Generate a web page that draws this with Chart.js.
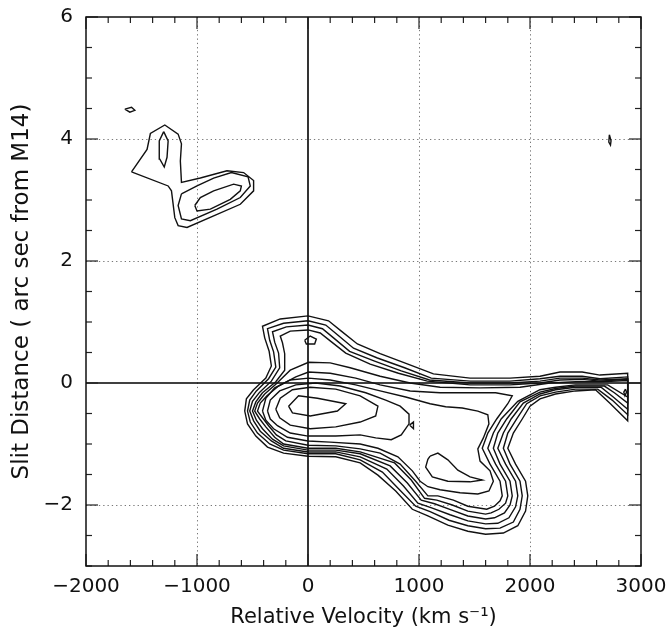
<!DOCTYPE html>
<html>
<head>
<meta charset="utf-8">
<script src="https://cdn.jsdelivr.net/npm/chart.js@4/dist/chart.umd.min.js"></script>
<style>
  html, body { margin: 0; padding: 0; background: #fff; }
  #c { display: block; }
</style>
</head>
<body>
<canvas id="c" width="671" height="632"></canvas>
<script>
// ---- axis ranges and tick labels ----
const xRange = [-2000, 3000];
const yRange = [-3, 6];
const xTickValues = [-2000, -1000, 0, 1000, 2000, 3000];
const yTickValues = [-2, 0, 2, 4, 6];
const xGridValues = [-1000, 1000, 2000];
const yGridValues = [-2, 2, 4];
const xMinorStep = 200;
const yMinorStep = 0.5;
const xTitle = 'Relative Velocity (km s\u207B\u00B9)';
const yTitle = 'Slit Distance ( arc sec from M14)';

// ---- contour levels: [velocity km/s, slit distance arcsec] ----
// main emission complex, outer to inner
const mainLevel1 = [[-490,-0.11],[-380,0.08],[-330,0.28],[-350,0.52],[-390,0.74],[-410,0.93],[-250,1.05],[0,1.10],[185,1.02],[300,0.85],[445,0.64],[650,0.48],[900,0.31],[1130,0.15],[1460,0.08],[1820,0.08],[2090,0.11],[2270,0.18],[2470,0.18],[2630,0.13],[2880,0.16],[2880,-0.62],[2720,-0.33],[2590,-0.11],[2410,-0.13],[2230,-0.18],[2090,-0.26],[2000,-0.38],[1930,-0.59],[1850,-0.82],[1800,-1.07],[1870,-1.33],[1960,-1.61],[1980,-1.85],[1960,-2.10],[1890,-2.34],[1760,-2.46],[1600,-2.48],[1440,-2.43],[1260,-2.33],[1080,-2.18],[940,-2.07],[790,-1.77],[630,-1.51],[470,-1.31],[250,-1.21],[0,-1.20],[-220,-1.15],[-365,-1.05],[-470,-0.87],[-545,-0.67],[-570,-0.46],[-555,-0.26]];
const mainLevel2 = [[-465,-0.13],[-355,0.07],[-290,0.26],[-310,0.51],[-345,0.70],[-365,0.89],[-220,0.98],[0,1.02],[160,0.95],[265,0.79],[410,0.57],[625,0.41],[870,0.25],[1110,0.08],[1460,0.03],[1820,0.03],[2090,0.07],[2270,0.11],[2470,0.11],[2630,0.07],[2880,0.10],[2880,-0.52],[2740,-0.28],[2610,-0.10],[2410,-0.10],[2230,-0.15],[2090,-0.21],[1970,-0.34],[1880,-0.59],[1800,-0.82],[1760,-1.07],[1820,-1.33],[1910,-1.61],[1930,-1.85],[1910,-2.07],[1850,-2.28],[1730,-2.38],[1600,-2.39],[1440,-2.34],[1270,-2.25],[1100,-2.11],[970,-2.02],[820,-1.74],[670,-1.46],[470,-1.26],[250,-1.16],[0,-1.16],[-220,-1.10],[-345,-1.00],[-455,-0.82],[-520,-0.64],[-545,-0.46],[-525,-0.28]];
const mainLevel3 = [[-435,-0.15],[-330,0.03],[-255,0.25],[-265,0.49],[-300,0.67],[-320,0.84],[-195,0.92],[0,0.95],[130,0.89],[230,0.74],[375,0.52],[600,0.36],[840,0.20],[1095,0.05],[1460,0.00],[1820,0.00],[2090,0.03],[2270,0.08],[2470,0.08],[2630,0.05],[2880,0.07],[2880,-0.43],[2750,-0.23],[2640,-0.07],[2410,-0.07],[2230,-0.11],[2090,-0.18],[1940,-0.33],[1830,-0.59],[1760,-0.82],[1710,-1.07],[1780,-1.33],[1870,-1.61],[1890,-1.85],[1870,-2.03],[1810,-2.21],[1710,-2.30],[1600,-2.31],[1440,-2.26],[1280,-2.16],[1120,-2.05],[990,-1.97],[860,-1.69],[710,-1.41],[470,-1.21],[250,-1.13],[0,-1.13],[-220,-1.07],[-330,-0.95],[-430,-0.79],[-490,-0.62],[-525,-0.46],[-500,-0.30]];
const mainLevel4 = [[-410,-0.16],[-290,0.02],[-210,0.21],[-210,0.48],[-230,0.66],[-250,0.77],[-160,0.85],[0,0.87],[110,0.82],[200,0.69],[340,0.49],[560,0.31],[815,0.16],[1075,0.03],[1460,-0.03],[1820,-0.03],[2090,0.00],[2270,0.05],[2470,0.06],[2630,0.03],[2880,0.06],[2880,-0.33],[2760,-0.16],[2670,-0.05],[2410,-0.05],[2230,-0.09],[2090,-0.15],[1910,-0.31],[1790,-0.59],[1710,-0.82],[1670,-1.07],[1730,-1.33],[1820,-1.61],[1840,-1.85],[1820,-2.00],[1770,-2.13],[1680,-2.21],[1600,-2.23],[1440,-2.18],[1290,-2.08],[1140,-1.98],[1020,-1.92],[895,-1.64],[740,-1.36],[470,-1.16],[250,-1.10],[0,-1.10],[-220,-1.03],[-320,-0.92],[-410,-0.75],[-465,-0.61],[-500,-0.46],[-470,-0.31]];
const mainLevel5 = [[-390,-0.18],[-290,-0.02],[-160,0.21],[5,0.34],[200,0.33],[380,0.25],[650,0.11],[920,0.00],[1190,-0.07],[1550,-0.08],[1910,-0.07],[2180,0.00],[2410,0.02],[2630,0.02],[2880,0.04],[2880,-0.23],[2700,-0.03],[2410,-0.03],[2230,-0.07],[2090,-0.11],[1890,-0.30],[1740,-0.59],[1670,-0.82],[1620,-1.07],[1690,-1.33],[1780,-1.61],[1800,-1.85],[1780,-1.97],[1720,-2.07],[1650,-2.13],[1600,-2.15],[1440,-2.10],[1300,-2.00],[1160,-1.92],[1050,-1.89],[930,-1.59],[780,-1.31],[470,-1.13],[250,-1.07],[0,-1.07],[-220,-1.00],[-300,-0.89],[-380,-0.72],[-435,-0.59],[-480,-0.46],[-455,-0.33]];
const mainLevel6 = [[-365,-0.20],[-265,-0.05],[-110,0.10],[5,0.18],[200,0.16],[430,0.08],[650,-0.03],[920,-0.13],[1190,-0.16],[1460,-0.16],[1690,-0.16],[1840,-0.21],[1800,-0.34],[1700,-0.59],[1620,-0.82],[1570,-1.07],[1640,-1.33],[1730,-1.61],[1750,-1.85],[1730,-1.93],[1680,-2.02],[1610,-2.07],[1440,-2.02],[1310,-1.92],[1170,-1.85],[1080,-1.85],[970,-1.61],[830,-1.33],[650,-1.15],[470,-1.08],[250,-1.03],[0,-1.02],[-200,-0.95],[-285,-0.85],[-355,-0.70],[-410,-0.57],[-455,-0.46],[-430,-0.33]];
const mainLevel7 = [[-410,-0.46],[-380,-0.25],[-300,-0.08],[-160,0.05],[5,0.08],[200,0.05],[430,-0.03],[650,-0.13],[880,-0.23],[1100,-0.34],[1240,-0.39],[1390,-0.41],[1530,-0.46],[1620,-0.52],[1630,-0.67],[1580,-0.90],[1530,-1.08],[1550,-1.28],[1640,-1.44],[1670,-1.61],[1630,-1.77],[1530,-1.82],[1370,-1.80],[1190,-1.75],[1080,-1.70],[1010,-1.61],[940,-1.44],[810,-1.21],[630,-1.07],[470,-1.00],[200,-0.97],[0,-0.95],[-185,-0.89],[-310,-0.75],[-380,-0.61]];
const coreLevel8 = [[-365,-0.46],[-340,-0.28],[-255,-0.13],[-110,-0.03],[70,0.00],[290,-0.05],[520,-0.16],[700,-0.28],[830,-0.38],[910,-0.51],[910,-0.67],[840,-0.85],[750,-0.93],[610,-0.90],[470,-0.85],[250,-0.87],[0,-0.87],[-160,-0.82],[-275,-0.70],[-340,-0.59]];
const lobeLevel8 = [[1100,-1.20],[1170,-1.15],[1260,-1.26],[1350,-1.43],[1460,-1.54],[1570,-1.59],[1460,-1.62],[1260,-1.61],[1120,-1.54],[1060,-1.38],[1080,-1.25]];
const coreLevel9 = [[-290,-0.43],[-250,-0.25],[-140,-0.11],[20,-0.07],[250,-0.10],[470,-0.21],[630,-0.38],[610,-0.54],[470,-0.64],[250,-0.72],[20,-0.75],[-160,-0.69],[-255,-0.57]];
const coreLevel10 = [[-175,-0.38],[-85,-0.21],[85,-0.25],[340,-0.34],[265,-0.46],[20,-0.54],[-140,-0.49]];
// small islands of the main complex
const islandTopLobe = [[-30,0.70],[20,0.77],[75,0.72],[60,0.64],[-15,0.64]];
const islandMid = [[915,-0.69],[950,-0.64],[950,-0.75]];
const islandRightEdge = [[2860,-0.10],[2845,-0.15],[2855,-0.21],[2870,-0.15]];
// north-east knot (upper left of the panel)
const knotOuter = [[-1590,3.46],[-1450,3.83],[-1420,4.09],[-1290,4.23],[-1170,4.08],[-1140,3.92],[-1150,3.64],[-1140,3.29],[-970,3.36],[-730,3.48],[-580,3.45],[-490,3.32],[-490,3.15],[-610,2.93],[-850,2.74],[-1090,2.55],[-1170,2.58],[-1200,2.71],[-1230,3.15],[-1260,3.23]];
const knotPeakA = [[-1300,4.12],[-1260,3.97],[-1270,3.70],[-1295,3.54],[-1335,3.67],[-1340,3.97]];
const knotMiddle = [[-1140,3.10],[-1000,3.23],[-850,3.36],[-690,3.45],[-540,3.38],[-520,3.23],[-610,3.04],[-820,2.85],[-1060,2.66],[-1140,2.69],[-1170,2.91]];
const knotInner = [[-1020,2.91],[-970,3.04],[-850,3.15],[-670,3.26],[-600,3.23],[-610,3.15],[-700,3.01],[-880,2.85],[-1000,2.82]];
const specUpperLeft = [[-1650,4.49],[-1590,4.52],[-1560,4.47],[-1605,4.44]];
const specUpperRight = [[2715,4.07],[2730,3.97],[2725,3.90],[2710,3.95]];

const allContours = [
  mainLevel1, mainLevel2, mainLevel3, mainLevel4, mainLevel5, mainLevel6, mainLevel7,
  coreLevel8, lobeLevel8, coreLevel9, coreLevel10,
  islandTopLobe, islandMid, islandRightEdge,
  knotOuter, knotPeakA, knotMiddle, knotInner, specUpperLeft, specUpperRight
];

function closed(pts) {
  const out = pts.map(p => ({x: p[0], y: p[1]}));
  out.push({x: pts[0][0], y: pts[0][1]});
  return out;
}

const datasets = allContours.map(c => ({
  data: closed(c),
  showLine: true,
  fill: false,
  borderColor: '#111',
  borderWidth: 1.4,
  pointRadius: 0,
  pointHoverRadius: 0,
  tension: 0
}));

function fmt(v) { return v < 0 ? '\u2212' + Math.abs(v) : String(v); }

const framePlugin = {
  id: 'frame',
  beforeDatasetsDraw(chart) {
    const {ctx, chartArea: a, scales: {x, y}} = chart;
    ctx.save();
    ctx.strokeStyle = '#777';
    ctx.lineWidth = 1;
    ctx.setLineDash([1.3, 3]);
    xGridValues.forEach(v => {
      const p = Math.round(x.getPixelForValue(v)) + 0.5;
      ctx.beginPath(); ctx.moveTo(p, a.top); ctx.lineTo(p, a.bottom); ctx.stroke();
    });
    yGridValues.forEach(v => {
      const p = Math.round(y.getPixelForValue(v)) + 0.5;
      ctx.beginPath(); ctx.moveTo(a.left, p); ctx.lineTo(a.right, p); ctx.stroke();
    });
    ctx.setLineDash([]);
    ctx.strokeStyle = '#000';
    ctx.lineWidth = 1.6;
    const x0 = x.getPixelForValue(0), y0 = y.getPixelForValue(0);
    ctx.beginPath(); ctx.moveTo(x0, a.top); ctx.lineTo(x0, a.bottom); ctx.stroke();
    ctx.beginPath(); ctx.moveTo(a.left, y0); ctx.lineTo(a.right, y0); ctx.stroke();
    ctx.restore();
  },
  afterDatasetsDraw(chart) {
    const {ctx, chartArea: a, scales: {x, y}} = chart;
    ctx.save();
    ctx.strokeStyle = '#222';
    ctx.lineWidth = 1.2;
    const nx = Math.round((xRange[1] - xRange[0]) / xMinorStep);
    for (let i = 0; i <= nx; i++) {
      const v = xRange[0] + i * xMinorStep;
      const major = xTickValues.includes(v);
      const len = major ? 12 : 6;
      const p = x.getPixelForValue(v);
      ctx.beginPath(); ctx.moveTo(p, a.bottom); ctx.lineTo(p, a.bottom - len); ctx.stroke();
      ctx.beginPath(); ctx.moveTo(p, a.top); ctx.lineTo(p, a.top + len); ctx.stroke();
    }
    const ny = Math.round((yRange[1] - yRange[0]) / yMinorStep);
    for (let i = 0; i <= ny; i++) {
      const v = yRange[0] + i * yMinorStep;
      const major = yTickValues.includes(v);
      const len = major ? 12 : 6;
      const p = y.getPixelForValue(v);
      ctx.beginPath(); ctx.moveTo(a.left, p); ctx.lineTo(a.left + len, p); ctx.stroke();
      ctx.beginPath(); ctx.moveTo(a.right, p); ctx.lineTo(a.right - len, p); ctx.stroke();
    }
    ctx.strokeStyle = '#111';
    ctx.lineWidth = 1.5;
    ctx.strokeRect(a.left, a.top, a.right - a.left, a.bottom - a.top);
    ctx.restore();
  }
};

new Chart(document.getElementById('c'), {
  type: 'scatter',
  data: { datasets },
  options: {
    responsive: false,
    animation: false,
    events: [],
    layout: { padding: { left: 0, right: 30, top: 17, bottom: 0 } },
    plugins: { legend: { display: false }, tooltip: { enabled: false } },
    scales: {
      x: {
        type: 'linear', position: 'bottom', min: xRange[0], max: xRange[1],
        grid: { display: false, drawTicks: false },
        border: { display: false },
        afterBuildTicks: s => { s.ticks = xTickValues.map(v => ({ value: v })); },
        afterFit: s => { s.height = 66; s.paddingLeft = 0; s.paddingRight = 0; s.paddingTop = 0; s.paddingBottom = 0; },
        ticks: {
          color: '#111', padding: 9, maxRotation: 0, autoSkip: false,
          font: { family: 'DejaVu Sans', size: 20 },
          callback: v => fmt(v)
        },
        title: {
          display: true, text: xTitle, color: '#111',
          font: { family: 'DejaVu Sans', size: 21 },
          padding: { top: 0, bottom: 2 }
        }
      },
      y: {
        type: 'linear', position: 'left', min: yRange[0], max: yRange[1],
        grid: { display: false, drawTicks: false },
        border: { display: false },
        afterBuildTicks: s => { s.ticks = yTickValues.map(v => ({ value: v })); },
        afterFit: s => { s.width = 86; s.paddingTop = 0; s.paddingBottom = 0; s.paddingLeft = 0; s.paddingRight = 0; },
        ticks: {
          color: '#111', padding: 13, autoSkip: false,
          font: { family: 'DejaVu Sans', size: 20 },
          callback: v => fmt(v)
        },
        title: {
          display: true, text: yTitle, color: '#111',
          font: { family: 'DejaVu Sans', size: 23 },
          padding: { top: 8, bottom: 0 }
        }
      }
    }
  },
  plugins: [framePlugin]
});
</script>
</body>
</html>
